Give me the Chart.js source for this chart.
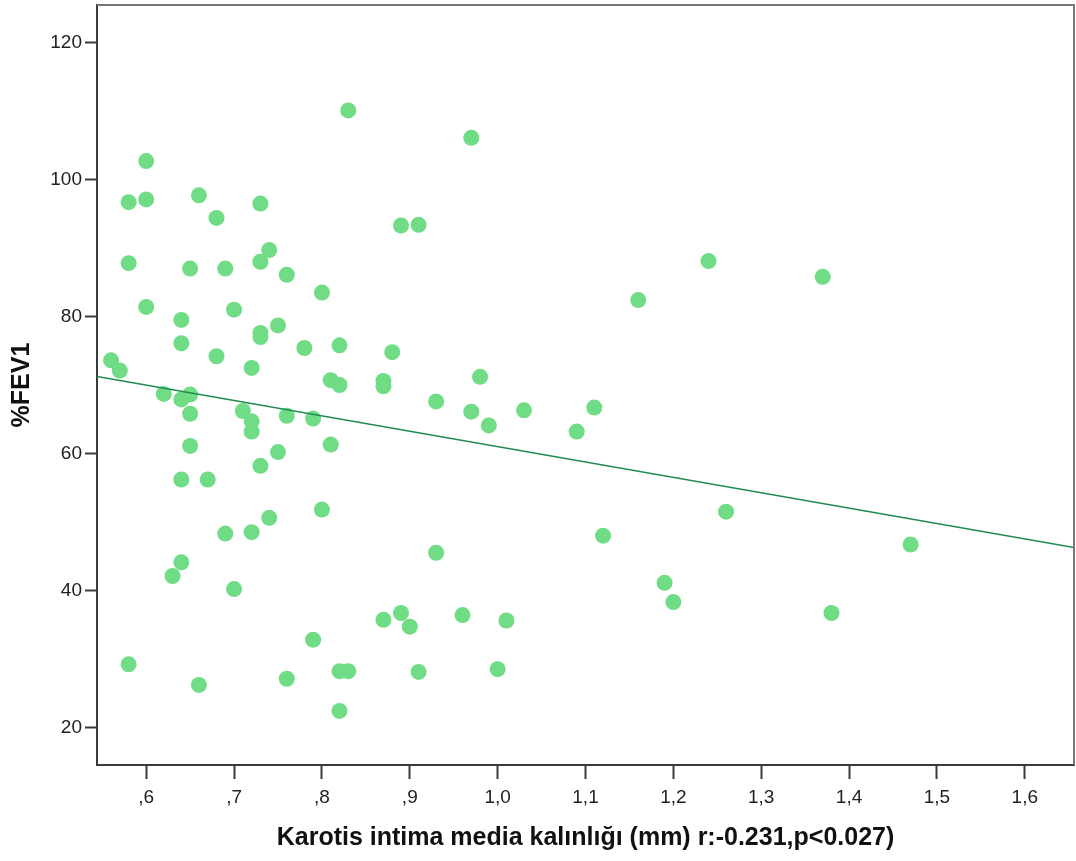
<!DOCTYPE html>
<html>
<head>
<meta charset="utf-8">
<title>KIMT ve %FEV1</title>
<script src="https://cdn.jsdelivr.net/npm/chart.js@4.4.1/dist/chart.umd.min.js"></script>
<style>
    html, body { margin: 0; padding: 0; background: #fff; }
    #scatter { display: block; }
</style>
</head>
<body>
<canvas id="scatter" width="1076" height="861"></canvas>
<script>
// karotis intima media kalınlığı (mm)
const kimt = [
    0.56, 0.57, 0.58, 0.58, 0.58, 0.60, 0.60, 0.60, 0.62, 0.63,
    0.64, 0.64, 0.64, 0.64, 0.64, 0.65, 0.65, 0.65, 0.65, 0.66,
    0.66, 0.67, 0.68, 0.68, 0.69, 0.69, 0.70, 0.70, 0.71, 0.72,
    0.72, 0.72, 0.72, 0.73, 0.73, 0.73, 0.73, 0.73, 0.74, 0.74,
    0.75, 0.75, 0.76, 0.76, 0.76, 0.78, 0.79, 0.79, 0.80, 0.80,
    0.81, 0.81, 0.82, 0.82, 0.82, 0.82, 0.83, 0.83, 0.87, 0.87,
    0.87, 0.88, 0.89, 0.89, 0.90, 0.91, 0.91, 0.93, 0.93, 0.96,
    0.97, 0.97, 0.98, 0.99, 1.00, 1.01, 1.03, 1.09, 1.11, 1.12,
    1.16, 1.19, 1.20, 1.24, 1.26, 1.37, 1.38, 1.47
];

// %FEV1, same order as kimt
const fev1 = [
    73.6, 72.1, 96.7, 87.8, 29.2, 102.7, 97.1, 81.4, 68.7, 42.1,
    79.5, 76.1, 67.9, 56.2, 44.1, 87.0, 68.6, 65.8, 61.1, 97.7,
    26.2, 56.2, 94.4, 74.2, 87.0, 48.3, 81.0, 40.2, 66.2, 72.5,
    64.7, 63.2, 48.5, 96.5, 88.0, 77.6, 77.0, 58.2, 89.7, 50.6,
    78.7, 60.2, 86.1, 65.5, 27.1, 75.4, 65.1, 32.8, 83.5, 51.8,
    70.7, 61.3, 75.8, 70.0, 28.2, 22.4, 110.1, 28.2, 70.6, 69.8,
    35.7, 74.8, 93.3, 36.7, 34.7, 93.4, 28.1, 67.6, 45.5, 36.4,
    106.1, 66.1, 71.2, 64.1, 28.5, 35.6, 66.3, 63.2, 66.7, 48.0,
    82.4, 41.1, 38.3, 88.1, 51.5, 85.8, 36.7, 46.7
];

// linear fit: %FEV1 = fitIntercept + fitSlope * kimt
const fitIntercept = 83.46;
const fitSlope = -22.46;

const xRange = [0.544, 1.656];
const yRange = [14.5, 125.5];
const yTicks = [20, 40, 60, 80, 100, 120];

const pointColor = '#70dc85';
const fitColor = '#1f8a50';
const axisColor = '#3a3a3a';
const textColor = '#222';

const points = kimt.map((x, i) => ({ x: x, y: fev1[i] }));
const fitLine = xRange.map(x => ({ x: x, y: fitIntercept + fitSlope * x }));

// box around the plot area (top and right sides)
const frame = {
    id: 'frame',
    afterDraw(chart) {
        const { ctx, chartArea: a } = chart;
        ctx.save();
        ctx.strokeStyle = '#777';
        ctx.lineWidth = 2;
        ctx.beginPath();
        ctx.moveTo(a.left, a.top);
        ctx.lineTo(a.right, a.top);
        ctx.lineTo(a.right, a.bottom);
        ctx.stroke();
        ctx.restore();
    }
};

// no extra room for labels sticking past the axis ends
const noPadding = scale => {
    scale.paddingLeft = 0;
    scale.paddingRight = 0;
    scale.paddingTop = 0;
    scale.paddingBottom = 0;
};

const tickFont = { family: "'Liberation Sans', Arial, sans-serif", size: 19 };
const titleFont = { family: "'Liberation Sans', Arial, sans-serif", size: 25, weight: 'bold' };

new Chart(document.getElementById('scatter').getContext('2d'), {
    type: 'scatter',
    data: {
        datasets: [{
            type: 'line',
            data: fitLine,
            borderColor: fitColor,
            borderWidth: 1.5,
            pointRadius: 0,
            fill: false,
            order: 0
        }, {
            data: points,
            backgroundColor: pointColor,
            borderWidth: 0,
            pointRadius: 8,
            pointHoverRadius: 8,
            order: 1
        }]
    },
    options: {
        responsive: false,
        animation: false,
        layout: {
            autoPadding: false,
            padding: { top: 5, right: 2, left: 0, bottom: 0 }
        },
        plugins: {
            legend: { display: false },
            tooltip: { enabled: false }
        },
        scales: {
            x: {
                type: 'linear',
                min: xRange[0],
                max: xRange[1],
                afterFit(scale) {
                    scale.height = 96;
                    noPadding(scale);
                },
                afterBuildTicks(scale) {
                    const t = [];
                    for (let v = 6; v <= 16; v++) t.push({ value: v / 10 });
                    scale.ticks = t;
                },
                border: { display: true, color: axisColor, width: 2 },
                grid: {
                    drawOnChartArea: false,
                    drawTicks: true,
                    tickLength: 14,
                    tickWidth: 2,
                    tickColor: axisColor
                },
                ticks: {
                    color: textColor,
                    font: tickFont,
                    padding: 7,
                    maxRotation: 0,
                    callback: v => v.toFixed(1).replace('.', ',').replace(/^0/, '')
                },
                title: {
                    display: true,
                    text: 'Karotis intima media kalınlığı (mm) r:-0.231,p<0.027)',
                    color: '#111',
                    font: titleFont,
                    padding: { top: 0, bottom: 8 }
                }
            },
            y: {
                type: 'linear',
                min: yRange[0],
                max: yRange[1],
                afterFit(scale) {
                    scale.width = 97;
                    noPadding(scale);
                },
                afterBuildTicks(scale) {
                    scale.ticks = yTicks.map(v => ({ value: v }));
                },
                border: { display: true, color: axisColor, width: 2 },
                grid: {
                    drawOnChartArea: false,
                    drawTicks: true,
                    tickLength: 12,
                    tickWidth: 2,
                    tickColor: axisColor
                },
                ticks: {
                    color: textColor,
                    font: tickFont,
                    padding: 3
                },
                title: {
                    display: true,
                    text: '%FEV1',
                    color: '#111',
                    font: titleFont,
                    padding: { top: 7, bottom: 0 }
                }
            }
        }
    },
    plugins: [frame]
});
</script>
</body>
</html>
